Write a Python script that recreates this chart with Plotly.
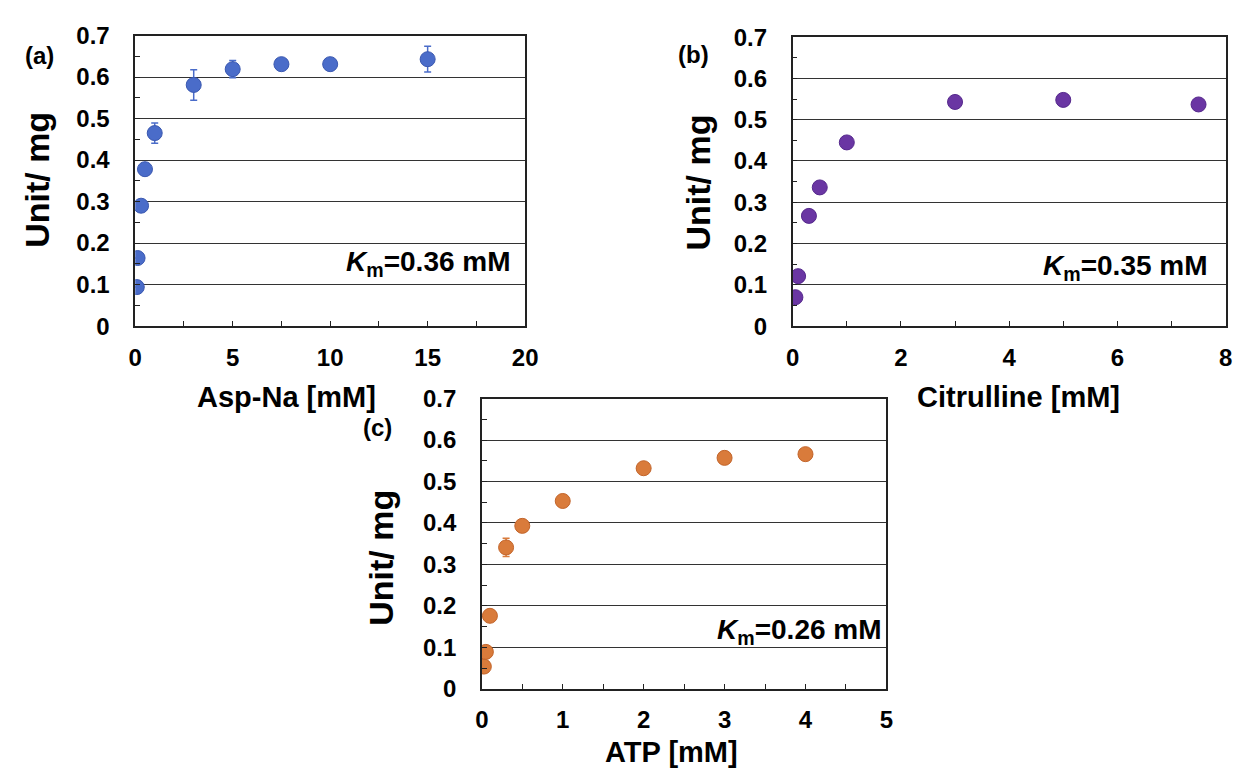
import plotly.graph_objects as go

# Substrate saturation data (specific activity, Unit/mg)
asp_conc = [0.08, 0.12, 0.3, 0.5, 1, 3, 5, 7.5, 10, 15]
asp_act = [0.094, 0.164, 0.290, 0.378, 0.465, 0.581, 0.619, 0.631, 0.631, 0.643]
asp_err = [0, 0, 0.013, 0, 0.0245, 0.0368, 0.021, 0, 0, 0.031]

cit_conc = [0.05, 0.1, 0.3, 0.5, 1, 3, 5, 7.5]
cit_act = [0.070, 0.121, 0.267, 0.336, 0.445, 0.543, 0.548, 0.537]

atp_conc = [0.025, 0.05, 0.1, 0.3, 0.5, 1, 2, 3, 4]
atp_act = [0.0535, 0.089, 0.176, 0.341, 0.393, 0.453, 0.532, 0.557, 0.566]
atp_err = [0, 0, 0, 0.022, 0, 0, 0, 0, 0]

km_labels = ["0.36", "0.35", "0.26"]
x_titles = ["Asp-Na [mM]", "Citrulline [mM]", "ATP [mM]"]
panel_tags = ["(a)", "(b)", "(c)"]
y_title = "Unit/ mg"

W, H = 1257, 779
FONT = "Liberation Sans, Arial, Helvetica, sans-serif"


def px(x):
    return x / W


def py(y):
    return 1 - y / H


BLUE, BLUE_EDGE = "#4a6cc9", "#3a58b0"
PURPLE, PURPLE_EDGE = "#6a36a3", "#55288c"
ORANGE, ORANGE_EDGE = "#d97b3b", "#c2642a"

fig = go.Figure()

fig.add_trace(go.Scatter(
    x=asp_conc, y=asp_act, mode="markers", xaxis="x", yaxis="y",
    marker=dict(size=15, color=BLUE, line=dict(color=BLUE_EDGE, width=1)),
    error_y=dict(type="data", array=asp_err, visible=True, color=BLUE,
                 thickness=1.5, width=3.5),
    showlegend=False,
))
fig.add_trace(go.Scatter(
    x=cit_conc, y=cit_act, mode="markers", xaxis="x2", yaxis="y2",
    marker=dict(size=15, color=PURPLE, line=dict(color=PURPLE_EDGE, width=1)),
    showlegend=False,
))
fig.add_trace(go.Scatter(
    x=atp_conc, y=atp_act, mode="markers", xaxis="x3", yaxis="y3",
    marker=dict(size=15, color=ORANGE, line=dict(color=ORANGE_EDGE, width=1)),
    error_y=dict(type="data", array=atp_err, visible=True, color=ORANGE,
                 thickness=1.5, width=3.5),
    showlegend=False,
))

tickfont = dict(family=FONT, size=24, color="black", weight="bold")


def xaxis(domain, xmax, dtick, anchor):
    return dict(
        domain=domain, range=[0, xmax], dtick=dtick, anchor=anchor,
        ticks="inside", ticklen=5, tickwidth=1, tickcolor="#222",
        minor=dict(dtick=dtick / 2, ticks="inside", ticklen=5, tickwidth=1,
                   tickcolor="#222"),
        showline=True, mirror=True, linecolor="#222", linewidth=1.5,
        showgrid=False, zeroline=False, tickfont=tickfont,
        ticklabelstandoff=9, fixedrange=True,
    )


def yaxis(domain, anchor):
    return dict(
        domain=domain, range=[0, 0.7], dtick=0.1, anchor=anchor,
        ticks="inside", ticklen=5, tickwidth=1, tickcolor="#222",
        minor=dict(dtick=0.05, ticks="inside", ticklen=5, tickwidth=1,
                   tickcolor="#222", showgrid=False),
        showline=True, mirror=True, linecolor="#222", linewidth=1.5,
        showgrid=True, gridcolor="#333", gridwidth=1.2,
        zeroline=False, tickfont=tickfont, ticklabelstandoff=19,
        fixedrange=True,
    )


fig.update_layout(
    width=W, height=H,
    margin=dict(l=0, r=0, t=0, b=0),
    paper_bgcolor="white", plot_bgcolor="white",
    xaxis=xaxis([px(130.3), px(526.5)], 20, 5, "y"),
    yaxis=yaxis([py(323.3), py(22.3)], "x"),
    xaxis2=xaxis([px(798.4), px(1238.3)], 8, 2, "y2"),
    yaxis2=yaxis([py(323.3), py(24.0)], "x2"),
    xaxis3=xaxis([px(482.5), px(893.6)], 5, 1, "y3"),
    yaxis3=yaxis([py(699.0), py(398.4)], "x3"),
)

annotations = []
# axis titles
for (cx, cy), txt in zip([(283.7, 397), (1028, 397), (675, 765)], x_titles):
    annotations.append(dict(
        x=px(cx), y=py(cy), xref="paper", yref="paper", text=txt,
        showarrow=False, xanchor="center", yanchor="middle",
        font=dict(family=FONT, size=29, color="black", weight="bold"),
    ))
for cx, cy in [(30.3, 172), (701.8, 175), (380.4, 563)]:
    annotations.append(dict(
        x=px(cx), y=py(cy), xref="paper", yref="paper", text=y_title,
        textangle=-90, showarrow=False, xanchor="center", yanchor="middle",
        font=dict(family=FONT, size=34, color="black", weight="bold"),
    ))
# panel tags
for (cx, cy), txt in zip([(32.7, 43), (697.3, 42), (376.8, 428)], panel_tags):
    annotations.append(dict(
        x=px(cx), y=py(cy), xref="paper", yref="paper", text=txt,
        showarrow=False, xanchor="center", yanchor="middle",
        font=dict(family=FONT, size=24, color="black", weight="bold"),
    ))
# Michaelis constants
for (rx, cy), km in zip([(514, 258), (1222.2, 263), (891.1, 640)], km_labels):
    annotations.append(dict(
        x=px(rx), y=py(cy), xref="paper", yref="paper",
        text=f"<i>K</i><sub>m</sub>={km} mM",
        showarrow=False, xanchor="right", yanchor="middle",
        font=dict(family=FONT, size=28, color="black", weight="bold"),
    ))

fig.update_layout(annotations=annotations)

fig.write_html(
    "out.html",
    post_script="document.body.style.margin='0px';",
)
